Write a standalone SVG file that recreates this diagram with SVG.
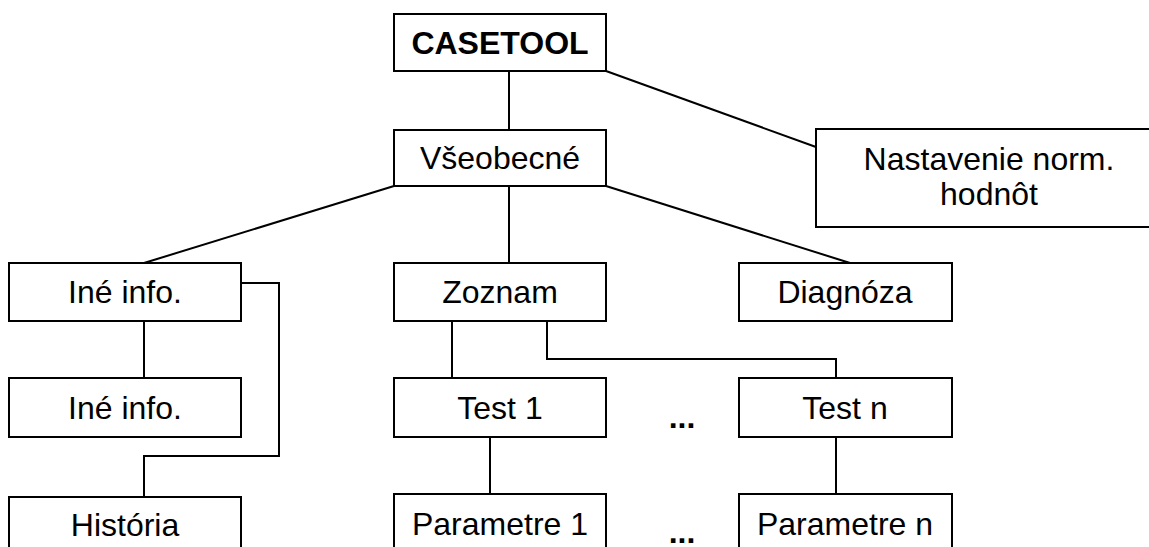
<svg xmlns="http://www.w3.org/2000/svg" width="1149" height="547" viewBox="0 0 1149 547">
  <style>
    .box { fill: #ffffff; stroke: #000000; stroke-width: 2; }
    .lbl { font-family: "Liberation Sans", Arial, sans-serif; font-size: 32px; fill: #000000; text-anchor: middle; }
    .bold { font-weight: bold; }
    .wire { fill: none; stroke: #000000; stroke-width: 2; }
  </style>
  <rect width="1149" height="547" fill="#ffffff"/>

  <!-- connectors -->
  <g id="connectors">
    <line class="wire" x1="509" y1="71" x2="509" y2="130"/>
    <line class="wire" x1="606" y1="71" x2="816" y2="147"/>
    <line class="wire" x1="394" y1="186" x2="144" y2="263"/>
    <line class="wire" x1="509" y1="186" x2="509" y2="263"/>
    <line class="wire" x1="606" y1="186" x2="850" y2="263"/>
    <line class="wire" x1="144" y1="321" x2="144" y2="378"/>
    <polyline class="wire" points="241,283 279,283 279,456 144,456 144,497"/>
    <line class="wire" x1="452" y1="321" x2="452" y2="378"/>
    <polyline class="wire" points="547,321 547,359 836,359 836,378"/>
    <line class="wire" x1="490" y1="437" x2="490" y2="494"/>
    <line class="wire" x1="836" y1="437" x2="836" y2="494"/>
  </g>

  <g id="casetool">
    <rect class="box" x="394" y="14" width="212" height="57"/>
    <text class="lbl bold" x="500" y="54">CASETOOL</text>
  </g>
  <g id="vseobecne">
    <rect class="box" x="394" y="130" width="212" height="56"/>
    <text class="lbl" x="500" y="169">Všeobecné</text>
  </g>
  <g id="nastavenie">
    <rect class="box" x="816" y="129" width="347" height="98"/>
    <text class="lbl" x="989" y="170">Nastavenie norm.</text>
    <text class="lbl" x="989" y="205">hodnôt</text>
  </g>
  <g id="ine-info">
    <rect class="box" x="9" y="263" width="232" height="58"/>
    <text class="lbl" x="125" y="303">Iné info.</text>
  </g>
  <g id="zoznam">
    <rect class="box" x="394" y="263" width="212" height="58"/>
    <text class="lbl" x="500" y="303">Zoznam</text>
  </g>
  <g id="diagnoza">
    <rect class="box" x="739" y="263" width="213" height="58"/>
    <text class="lbl" x="845" y="303">Diagnóza</text>
  </g>
  <g id="ine-info-2">
    <rect class="box" x="9" y="378" width="232" height="59"/>
    <text class="lbl" x="125" y="419">Iné info.</text>
  </g>
  <g id="test-1">
    <rect class="box" x="394" y="378" width="212" height="59"/>
    <text class="lbl" x="500" y="419">Test 1</text>
  </g>
  <g id="test-n">
    <rect class="box" x="739" y="378" width="213" height="59"/>
    <text class="lbl" x="845" y="419">Test n</text>
  </g>
  <g id="historia">
    <rect class="box" x="9" y="497" width="232" height="60"/>
    <text class="lbl" x="125" y="536">História</text>
  </g>
  <g id="parametre-1">
    <rect class="box" x="394" y="494" width="212" height="60"/>
    <text class="lbl" x="500" y="535">Parametre 1</text>
  </g>
  <g id="parametre-n">
    <rect class="box" x="739" y="494" width="213" height="60"/>
    <text class="lbl" x="845" y="535">Parametre n</text>
  </g>

  <!-- ellipses between first and last items -->
  <text class="lbl bold" x="682" y="428">...</text>
  <text class="lbl bold" x="682" y="543">...</text>
</svg>
